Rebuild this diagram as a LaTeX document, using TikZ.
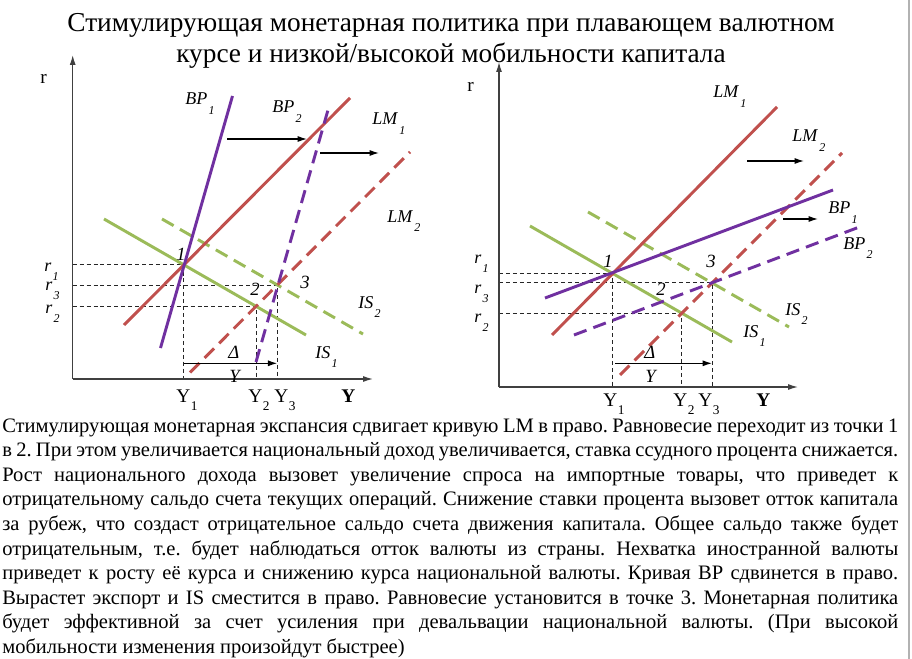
\documentclass[tikz,border=0pt]{standalone}
\usepackage{fontspec}
\setmainfont{Liberation Serif}
\usetikzlibrary{arrows.meta,intersections}
\definecolor{lmred}{HTML}{C0504D}
\definecolor{isgreen}{HTML}{9BBB59}
\definecolor{bppurple}{HTML}{7030A0}
\newcommand{\ilab}[2]{\textit{#1}\kern1pt\raisebox{-7pt}{\fontsize{9}{9}\selectfont\textit{#2}}}
\newcommand{\ulab}[2]{#1\kern0.5pt\raisebox{-6pt}{\fontsize{10}{10}\selectfont #2}}
\newcommand{\jline}[1]{\makebox[672pt][s]{#1}}
\frenchspacing
\begin{document}
\begin{tikzpicture}[x=0.75pt,y=-0.75pt,
  curve/.style={line width=2.2pt},
  dsh/.style={dash pattern=on 10pt off 5.5pt},
  lmc/.style={curve,draw=lmred},
  isc/.style={curve,draw=isgreen},
  bpc/.style={curve,draw=bppurple},
  guide/.style={draw=black!85,line width=0.7pt,dash pattern=on 3pt off 2.2pt},
  axis/.style={draw=black!75,line width=0.9pt,-{Latex[length=7.5pt,width=4.5pt]}},
  shiftarr/.style={draw=black,line width=0.9pt,-{Latex[length=7pt,width=4.5pt]}},
  lbl/.style={anchor=base west,inner sep=0pt,font=\fontsize{13.5}{14}\selectfont},
  num/.style={anchor=base west,inner sep=0pt,font=\fontsize{14}{14}\selectfont\itshape},
  axl/.style={anchor=base west,inner sep=0pt,font=\fontsize{14.5}{15}\selectfont},
  body/.style={anchor=base west,inner sep=0pt,font=\fontsize{15.4}{18}\selectfont},
  ttl/.style={anchor=base,inner sep=0pt,font=\fontsize{20.5}{22}\selectfont}
]
\useasboundingbox (0,0) rectangle (912,659);
\fill[white] (0,0) rectangle (912,659);
\coordinate (BrT) at (909,0);
\coordinate (BrB) at (909,659);
\draw[black!30,line width=0.8pt] (BrT) -- (BrB);

% title
\node[ttl] (title1) at (451,32) {Стимулирующая монетарная политика при плавающем валютном};
\node[ttl] (title2) at (451,63) {курсе и низкой/высокой мобильности капитала};

% ================= LEFT GRAPH =================
\coordinate (LO) at (72.7,379);
\coordinate (LYtop) at (72.7,55);
\coordinate (LXend) at (373,379);
\coordinate (LBP1a) at (160.5,348); \coordinate (LBP1b) at (232.5,96);
\coordinate (LBP2a) at (256,362);   \coordinate (LBP2b) at (328,110);
\coordinate (LLM1a) at (124,325);   \coordinate (LLM1b) at (350,98);
\coordinate (LLM2a) at (190,372.5); \coordinate (LLM2b) at (410,152);
\coordinate (LIS1a) at (104,219);   \coordinate (LIS1b) at (306,335);
\coordinate (LIS2a) at (162,219);   \coordinate (LIS2b) at (363,334);

\path[name path=lLM1] (LLM1a) -- (LLM1b);
\path[name path=lLM2] (LLM2a) -- (LLM2b);
\path[name path=lIS1] (LIS1a) -- (LIS1b);
\path[name path=lIS2] (LIS2a) -- (LIS2b);
\path[name intersections={of=lLM1 and lIS1,by=LP1}];
\path[name intersections={of=lLM2 and lIS1,by=LP2}];
\path[name intersections={of=lLM2 and lIS2,by=LP3}];

% guides
\draw[guide] (LO |- LP1) -- (LP1) -- (LP1 |- LO);
\draw[guide] (LO |- LP3) -- (LP3) -- (LP3 |- LO);
\draw[guide] (LO |- LP2) -- (LP2) -- (LP2 |- LO);

% curves
\draw[isc] (LIS1a) -- (LIS1b);
\draw[isc,dsh] (LIS2a) -- (LIS2b);
\draw[lmc] (LLM1a) -- (LLM1b);
\draw[lmc,dsh] (LLM2a) -- (LLM2b);
\draw[bpc] (LBP1a) -- (LBP1b);
\draw[bpc,dsh] (LBP2a) -- (LBP2b);

% axes
\draw[axis] (LO) -- (LYtop);
\draw[axis] (LO) -- (LXend);

% shift arrows
\coordinate (LA1s) at (227,139); \coordinate (LA1e) at (307,139);
\coordinate (LA2s) at (320,153); \coordinate (LA2e) at (379,153);
\draw[shiftarr] (LA1s) -- (LA1e);
\draw[shiftarr] (LA2s) -- (LA2e);
\coordinate (LDs) at (LP1 |- 0,363.3); \coordinate (LDe) at (LP3 |- 0,363.3);
\draw[shiftarr] (LDs) -- (LDe);

% labels
\node[lbl] (lBP1) at (185,105) {\ilab{BP}{1}};
\node[lbl] (lBP2) at (272,113) {\ilab{BP}{2}};
\node[lbl] (lLM1) at (372,125) {\ilab{LM}{1}};
\node[lbl] (lLM2) at (387,222) {\ilab{LM}{2}};
\node[lbl] (lIS2) at (358,308) {\ilab{IS}{2}};
\node[lbl] (lIS1) at (315,358) {\ilab{IS}{1}};
\node[num] (ln1) at (176,260) {1};
\node[num] (ln2) at (250,295) {2};
\node[num] (ln3) at (300,288) {3};
\node[num] (lDelta) at (228,358) {Δ};
\node[num] (lDY) at (229,382) {Y};
\node[lbl] (lr1) at (44,271) {\ilab{r}{1}};
\node[lbl] (lr3) at (45,290) {\ilab{r}{3}};
\node[lbl] (lr2) at (45,313) {\ilab{r}{2}};
\node[axl] (lY1) at (176,402) {\ulab{Y}{1}};
\node[axl] (lY2) at (248,402) {\ulab{Y}{2}};
\node[axl] (lY3) at (274,402) {\ulab{Y}{3}};
\node[axl,font=\fontsize{14.5}{15}\selectfont\bfseries] (lYax) at (341,402) {Y};
\node[axl] (lrax) at (40,84) {r};

% ================= RIGHT GRAPH =================
\coordinate (RO) at (499,387);
\coordinate (RYtop) at (499,62);
\coordinate (RXend) at (798,387);
\coordinate (RLM1a) at (552,335); \coordinate (RLM1b) at (777,107);
\coordinate (RLM2a) at (620,375); \coordinate (RLM2b) at (842,153);
\coordinate (RBP1a) at (545,298); \coordinate (RBP1b) at (833,190);
\coordinate (RBP2a) at (574,335); \coordinate (RBP2b) at (862,226);
\coordinate (RIS1a) at (530,226); \coordinate (RIS1b) at (732,342);
\coordinate (RIS2a) at (588,212); \coordinate (RIS2b) at (789,327);

\path[name path=rLM1] (RLM1a) -- (RLM1b);
\path[name path=rLM2] (RLM2a) -- (RLM2b);
\path[name path=rIS1] (RIS1a) -- (RIS1b);
\path[name path=rIS2] (RIS2a) -- (RIS2b);
\path[name intersections={of=rLM1 and rIS1,by=RP1}];
\path[name intersections={of=rLM2 and rIS1,by=RP2}];
\path[name intersections={of=rLM2 and rIS2,by=RP3}];

\draw[guide] (RO |- RP1) -- (RP1) -- (RP1 |- RO);
\draw[guide] (RO |- RP3) -- (RP3) -- (RP3 |- RO);
\draw[guide] (RO |- RP2) -- (RP2) -- (RP2 |- RO);

\draw[isc] (RIS1a) -- (RIS1b);
\draw[isc,dsh] (RIS2a) -- (RIS2b);
\draw[lmc] (RLM1a) -- (RLM1b);
\draw[lmc,dsh] (RLM2a) -- (RLM2b);
\draw[bpc] (RBP1a) -- (RBP1b);
\draw[bpc,dsh] (RBP2a) -- (RBP2b);

\draw[axis] (RO) -- (RYtop);
\draw[axis] (RO) -- (RXend);

\coordinate (RA1s) at (747,161); \coordinate (RA1e) at (804,161);
\coordinate (RA2s) at (783,219); \coordinate (RA2e) at (818,219);
\draw[shiftarr] (RA1s) -- (RA1e);
\draw[shiftarr] (RA2s) -- (RA2e);
\coordinate (RDs) at (615,363.3); \coordinate (RDe) at (RP3 |- 0,363.3);
\draw[shiftarr] (RDs) -- (RDe);

\node[lbl] (rLM1l) at (713,98) {\ilab{LM}{1}};
\node[lbl] (rLM2l) at (792,142) {\ilab{LM}{2}};
\node[lbl] (rBP1l) at (828,214) {\ilab{BP}{1}};
\node[lbl] (rBP2l) at (843,249) {\ilab{BP}{2}};
\node[lbl] (rIS2l) at (785,315) {\ilab{IS}{2}};
\node[lbl] (rIS1l) at (743,337) {\ilab{IS}{1}};
\node[num] (rn1) at (603,267) {1};
\node[num] (rn2) at (656,295) {2};
\node[num] (rn3) at (706,267) {3};
\node[num] (rDelta) at (644,358) {Δ};
\node[num] (rDY) at (645,382) {Y};
\node[lbl] (rr1) at (474,263) {\ilab{r}{1}};
\node[lbl] (rr3) at (474,293) {\ilab{r}{3}};
\node[lbl] (rr2) at (474,322) {\ilab{r}{2}};
\node[axl] (rY1) at (603,406) {\ulab{Y}{1}};
\node[axl] (rY2) at (673,406) {\ulab{Y}{2}};
\node[axl] (rY3) at (698,406) {\ulab{Y}{3}};
\node[axl,font=\fontsize{14.5}{15}\selectfont\bfseries] (rYax) at (756,406) {Y};
\node[axl] (rrax) at (467,92) {r};

% ================= BODY TEXT =================
\node[body] (t1) at (2,432.0) {\jline{Стимулирующая монетарная экспансия сдвигает кривую LM в право. Равновесие переходит из точки 1}};
\node[body] (t2) at (2,456.6) {\jline{в 2. При этом увеличивается национальный доход увеличивается, ставка ссудного процента снижается.}};
\node[body] (t3) at (2,481.2) {\jline{Рост национального дохода вызовет увеличение спроса на импортные товары, что приведет к}};
\node[body] (t4) at (2,505.8) {\jline{отрицательному сальдо счета текущих операций. Снижение ставки процента вызовет отток капитала}};
\node[body] (t5) at (2,530.4) {\jline{за рубеж, что создаст отрицательное сальдо счета движения капитала. Общее сальдо также будет}};
\node[body] (t6) at (2,555.0) {\jline{отрицательным, т.е. будет наблюдаться отток валюты из страны. Нехватка иностранной валюты}};
\node[body] (t7) at (2,579.6) {\jline{приведет к росту её курса и снижению курса национальной валюты. Кривая ВР сдвинется в право.}};
\node[body] (t8) at (2,604.2) {\jline{Вырастет экспорт и IS сместится в право. Равновесие установится в точке 3. Монетарная политика}};
\node[body] (t9) at (2,628.8) {\jline{будет эффективной за счет усиления при девальвации национальной валюты. (При высокой}};
\node[body] (t10) at (2,653.4) {мобильности изменения произойдут быстрее)};
\end{tikzpicture}
\end{document}
